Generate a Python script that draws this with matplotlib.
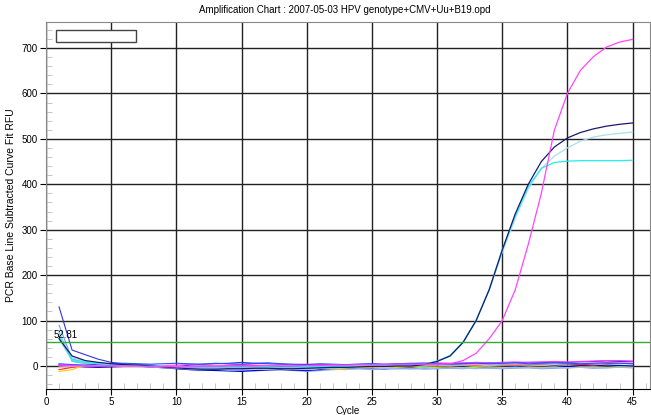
import matplotlib
matplotlib.use("Agg")
import matplotlib.pyplot as plt
from matplotlib.patches import Rectangle
from matplotlib.ticker import MultipleLocator

plt.rcParams['font.family'] = ['Liberation Sans', 'DejaVu Sans']

title = "Amplification Chart : 2007-05-03 HPV genotype+CMV+Uu+B19.opd"
cycles = list(range(1, 46))
threshold = 52.81

# flat / non-amplified wells
bg_colors = ['#3333dd', '#7799ff', '#33dddd', '#0000cc', '#ff2222',
             '#ffcc00', '#ff33ff', '#ff99cc', '#99bbee', '#2255ff']
bg_values = [
    [130, 35, 25, 15, 8, 5, 3, 2, 0, -2, 2, 4, 5, 6, 8, 6, 5, 4, 2, 0, -2, 1, 2, 3, 3, 4, 5, 6, 6, 5, 5, 6, 7, 7, 6, 7, 8, 8, 7, 8, 9, 10, 11, 10, 10],
    [90, 15, 10, 6, 4, 3, 2, 0, -3, -6, -8, -10, -9, -8, -10, -11, -9, -8, -10, -12, -10, -8, -7, -6, -8, -7, -6, -5, -7, -6, -5, -6, -4, -5, -6, -5, -4, -6, -5, -4, -3, -5, -4, -3, -4],
    [75, 10, 5, 2, 1, 0, -1, -2, -1, -3, -4, -3, -2, -4, -3, -2, -1, -2, -3, -2, -1, 0, -1, -2, -1, 0, -1, -2, -1, 0, 1, 0, -1, 0, 1, 0, 1, 0, 1, 2, 1, 0, 1, 2, 1],
    [2, 0, -2, -3, -2, -1, 0, -2, -4, -6, -8, -9, -10, -11, -12, -10, -9, -8, -9, -10, -8, -6, -5, -4, -5, -6, -4, -3, -5, -4, -3, -2, -4, -3, -2, -3, -1, -2, 0, -1, 1, 0, 2, 1, 0],
    [-8, -3, 0, 1, 2, 0, -1, 0, -2, -3, -2, -1, 0, 1, 2, 1, 0, -1, 0, 2, 3, 2, 1, 2, 3, 2, 4, 3, 2, 3, 4, 3, 2, 4, 3, 2, 3, 4, 5, 4, 3, 4, 5, 6, 5],
    [-12, -8, 2, 4, 3, 1, 0, -1, -2, -4, -5, -3, -4, -5, -3, -6, -5, -4, -6, -5, -4, -6, -5, -3, -4, -5, -3, -2, -4, -3, -2, -4, -3, -2, -3, -4, -2, -3, -2, -4, -3, -2, -3, -2, -3],
    [3, 2, 1, 0, 1, 2, 1, 0, 1, 2, 3, 2, 1, 2, 3, 2, 1, 2, 3, 4, 3, 2, 3, 4, 5, 4, 3, 5, 6, 7, 6, 7, 8, 7, 8, 9, 8, 9, 10, 9, 10, 11, 12, 12, 11],
    [-2, -1, 0, 1, 0, -1, 0, 1, 0, -1, -2, -1, 0, -1, -2, -1, 0, 1, 0, -1, 0, 1, 2, 1, 0, 1, 2, 1, 2, 3, 2, 3, 4, 3, 4, 5, 4, 5, 6, 5, 6, 7, 8, 7, 8],
    [60, 12, 6, 3, 2, 1, 0, -2, -4, -5, -7, -8, -7, -9, -8, -7, -8, -9, -7, -8, -6, -7, -8, -6, -7, -5, -6, -7, -5, -6, -4, -5, -6, -4, -5, -3, -4, -5, -3, -4, -2, -3, -4, -2, -3],
    [5, 3, 2, 4, 5, 6, 5, 4, 5, 6, 5, 4, 6, 5, 4, 6, 7, 5, 4, 3, 5, 4, 3, 4, 5, 3, 4, 5, 6, 5, 4, 5, 6, 5, 6, 7, 5, 6, 7, 6, 5, 6, 7, 6, 5],
]

# amplified wells
amp_colors = ['#aaddee', '#22eeee', '#1a1a70', '#ff44ff']
amp_values = [
    [70, 18, 10, 6, 4, 2, 1, 0, -1, -3, -4, -5, -5, -4, -4, -3, -3, -4, -4, -3, -2, -2, -1, -1, 0, 0, 1, 1, 3, 10, 22, 52, 100, 166, 250, 325, 390, 435, 462, 480, 495, 504, 509, 512, 515],
    [65, 14, 8, 5, 3, 2, 1, 0, -1, -2, -3, -4, -4, -3, -3, -2, -2, -3, -3, -2, -1, -1, 0, 0, 1, 1, 2, 2, 4, 11, 23, 53, 101, 168, 256, 330, 395, 435, 448, 451, 452, 452, 452, 452, 453],
    [60, 22, 12, 8, 5, 3, 2, 0, -2, -4, -6, -7, -7, -6, -6, -5, -5, -6, -6, -5, -4, -3, -3, -2, -1, -1, 0, 0, 3, 10, 22, 52, 100, 168, 255, 335, 400, 450, 482, 502, 514, 522, 528, 532, 535],
    [2, 1, 0, 0, 1, 0, 0, -1, -1, -2, -2, -1, -1, 0, 0, 0, 1, 0, 0, 1, 1, 2, 2, 3, 3, 3, 4, 4, 4, 4, 5, 12, 28, 60, 100, 168, 268, 380, 519, 600, 651, 681, 702, 713, 719],
]

fig = plt.figure(figsize=(6.51, 4.15), dpi=100)
ax = fig.add_axes([0.0707, 0.0627, 0.927, 0.884])

for v, c in zip(bg_values, bg_colors):
    ax.plot(cycles, v, color=c, lw=0.8)
for v, c in zip(amp_values, amp_colors):
    ax.plot(cycles, v, color=c, lw=0.9)

ax.axhline(threshold, color='#33aa33', lw=1)
ax.text(0.6, threshold + 4, '%.2f' % threshold, fontsize=7, va='bottom')

ax.set_xlim(0, 46.3)
ax.set_ylim(-50.6, 757)
ax.xaxis.set_major_locator(MultipleLocator(5))
ax.xaxis.set_minor_locator(MultipleLocator(1))
ax.yaxis.set_major_locator(MultipleLocator(100))
ax.yaxis.set_minor_locator(MultipleLocator(20))
ax.grid(which='major', color='#222222', lw=1)
ax.set_axisbelow(True)
ax.tick_params(which='major', direction='out', length=4, labelsize=7, pad=2)
ax.tick_params(which='minor', direction='in', length=4, color='#bbbbbb')
for s in ['top', 'right', 'left']:
    ax.spines[s].set_color('#888888')
ax.spines['bottom'].set_color('black')

ax.add_patch(Rectangle((0.0166, 0.945), 0.132, 0.033, transform=ax.transAxes,
                       facecolor='white', edgecolor='#444444', lw=1, zorder=5))

fig.text(0.53, 0.976, title, fontsize=7, ha='center', va='center')
ax.set_xlabel('Cycle', fontsize=7, labelpad=-1)
ax.set_ylabel('PCR Base Line Subtracted Curve Fit RFU', fontsize=7.5, labelpad=4)

fig.savefig('out.png', dpi=100)
